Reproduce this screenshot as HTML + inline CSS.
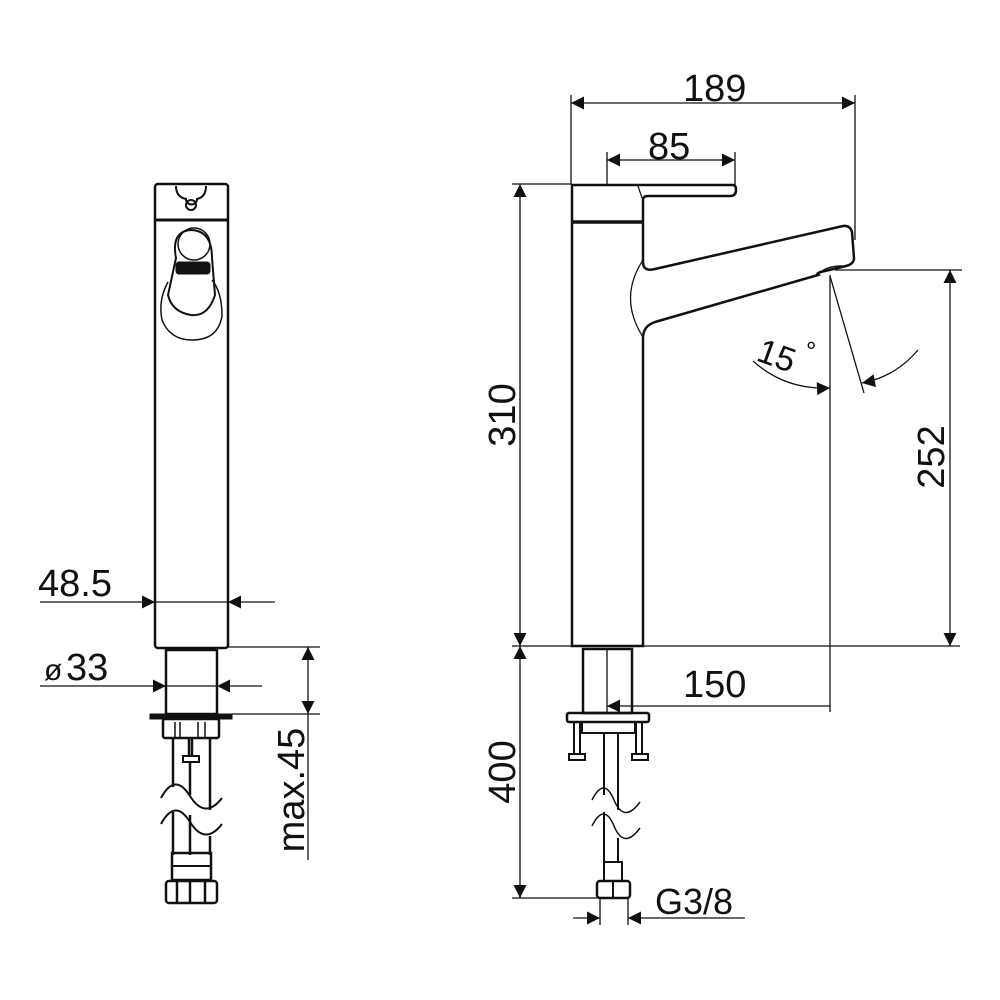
<!DOCTYPE html>
<html><head><style>body{margin:0;background:#fff}svg{display:block}text{font-family:"Liberation Sans",sans-serif;fill:#111}</style></head>
<body>
<svg width="1000" height="1000" viewBox="0 0 1000 1000" xmlns="http://www.w3.org/2000/svg">
<defs>
<marker id="a" viewBox="0 0 10 10" refX="10" refY="5" markerWidth="26" markerHeight="13" markerUnits="userSpaceOnUse" orient="auto-start-reverse"><path d="M0,0 L10,5 L0,10 z" fill="#111"/></marker>
</defs>
<g stroke="#111" fill="none">
<!-- LEFT VIEW -->
<rect x="155" y="184" width="73" height="464" rx="3" stroke-width="2.5"/>
<line x1="155" y1="220" x2="228" y2="220" stroke-width="3"/>
<path d="M176,186 Q176,197 186,199 A5,5 0 1 0 197,199 Q206,197 206,186" stroke-width="2"/>
<circle cx="191" cy="205" r="5" stroke-width="2"/>
<path d="M176,258 Q171,232 190,230 Q212,230 212,258 L215,295 Q208,317 191,315 Q172,312 168,295 Z" stroke-width="2"/>
<circle cx="194" cy="244" r="16" stroke-width="1.5"/>
<rect x="176" y="262" width="34" height="12" rx="3" fill="#111" stroke-width="1"/>
<path d="M168,282 Q158,300 162,320 Q170,340 192,340 Q218,340 222,316 Q222,292 212,280" stroke-width="1.5"/>
<!-- shank -->
<rect x="166" y="650" width="51" height="64" stroke-width="2.5"/>
<line x1="169" y1="650" x2="214" y2="650" stroke-width="2"/>
<rect x="150" y="714" width="82" height="5" fill="#111" stroke-width="1"/>
<rect x="163" y="719" width="56" height="19" rx="2" stroke-width="2.5"/>
<path d="M175,722 V738 M180,722 V738 M198,722 V738 M205,722 V738" stroke-width="1.5"/>
<path d="M173,738 V787 M210,738 V810 M189,738 V757 M192,738 V757" stroke-width="2.5"/>
<rect x="183" y="756" width="16" height="6" stroke-width="2"/>
<path d="M190,762 V795 M173,812 V855 M190,815 V855 M210,836 V855" stroke-width="2.5"/>
<path d="M161,798 Q175,772 190,796 T222,798 M161,824 Q175,798 190,822 T222,824" stroke-width="2"/>
<rect x="172" y="853" width="39" height="27" stroke-width="2.5"/>
<line x1="172" y1="866" x2="211" y2="866" stroke-width="2"/>
<rect x="166" y="881" width="51" height="22" rx="3" stroke-width="2.5"/>
<path d="M177,881 V903 M190,881 V903 M205,881 V903" stroke-width="2.5"/>
<!-- left dims -->
<g stroke-width="1.3">
<line x1="40" y1="602" x2="155" y2="602" marker-end="url(#a)"/>
<line x1="275" y1="602" x2="228" y2="602" marker-end="url(#a)"/>
<line x1="155" y1="602" x2="228" y2="602"/>
<line x1="40" y1="686" x2="166" y2="686" marker-end="url(#a)"/>
<line x1="262" y1="686" x2="217" y2="686" marker-end="url(#a)"/>
<line x1="166" y1="686" x2="217" y2="686"/>
<line x1="228" y1="647" x2="320" y2="647"/>
<line x1="232" y1="714" x2="320" y2="714"/>
<line x1="308" y1="680" x2="308" y2="647" marker-end="url(#a)"/>
<line x1="308" y1="680" x2="308" y2="714" marker-end="url(#a)"/>
<line x1="308" y1="714" x2="308" y2="860"/>
</g>
<!-- RIGHT VIEW -->
<path d="M572,646 V185 H733 Q736,185 736,190 Q736,196 730,196 H648 Q643,196 643,200 V262 Q643,272 655,269 L843,226 Q850,225 852,232 L854,258 Q854,264 846,266 L825,271 Q815,273 818,275 L655,322 Q643,326 643,338 V646 Z" stroke-width="2.5"/>
<path d="M818,275 Q825,266 842,266" stroke-width="1.5"/>
<line x1="572" y1="222" x2="643" y2="222" stroke-width="3.5"/>
<path d="M643,260 Q618,298 643,337" stroke-width="1.3"/>
<line x1="638" y1="186" x2="642" y2="198" stroke-width="1.2"/>
<!-- base right -->
<rect x="583" y="649" width="49" height="64" stroke-width="2.5"/>
<line x1="586" y1="649" x2="629" y2="649" stroke-width="2"/>
<line x1="607" y1="649" x2="607" y2="713" stroke-width="1.3"/>
<rect x="567" y="713" width="82" height="9" rx="2" stroke-width="2.5"/>
<rect x="582" y="722" width="53" height="11" stroke-width="2"/>
<path d="M574,722 V755 M580,722 V755 M636,722 V755 M642,722 V755" stroke-width="2"/>
<rect x="569" y="754" width="16" height="6" stroke-width="2"/>
<rect x="632" y="754" width="16" height="6" stroke-width="2"/>
<path d="M604,733 V795 M618,733 V810 M604,812 V862 M618,838 V862" stroke-width="2"/>
<path d="M592,800 Q604,776 614,800 T640,802 M592,826 Q604,802 614,826 T640,828" stroke-width="1.5"/>
<rect x="604" y="862" width="18" height="19" stroke-width="2"/>
<rect x="597" y="881" width="33" height="17" rx="3" stroke-width="2.5"/>
<line x1="613" y1="881" x2="613" y2="898" stroke-width="2"/>
<!-- right dims -->
<g stroke-width="1.3">
<line x1="571" y1="95" x2="571" y2="184"/>
<line x1="855" y1="95" x2="855" y2="240"/>
<line x1="715" y1="103" x2="571" y2="103" marker-end="url(#a)"/>
<line x1="715" y1="103" x2="855" y2="103" marker-end="url(#a)"/>
<line x1="607" y1="152" x2="607" y2="185"/>
<line x1="735" y1="152" x2="735" y2="185"/>
<line x1="670" y1="160" x2="607" y2="160" marker-end="url(#a)"/>
<line x1="670" y1="160" x2="735" y2="160" marker-end="url(#a)"/>
<line x1="512" y1="184" x2="571" y2="184"/>
<line x1="512" y1="646" x2="960" y2="646"/>
<line x1="520" y1="415" x2="520" y2="184" marker-end="url(#a)"/>
<line x1="520" y1="415" x2="520" y2="646" marker-end="url(#a)"/>
<line x1="835" y1="270" x2="962" y2="270"/>
<line x1="950" y1="455" x2="950" y2="270" marker-end="url(#a)"/>
<line x1="950" y1="455" x2="950" y2="646" marker-end="url(#a)"/>
<line x1="512" y1="898" x2="600" y2="898"/>
<line x1="520" y1="770" x2="520" y2="646" marker-end="url(#a)"/>
<line x1="520" y1="770" x2="520" y2="898" marker-end="url(#a)"/>
<line x1="600" y1="898" x2="600" y2="925"/>
<line x1="628" y1="898" x2="628" y2="925"/>
<line x1="573" y1="918" x2="600" y2="918" marker-end="url(#a)"/>
<line x1="745" y1="918" x2="628" y2="918" marker-end="url(#a)"/>
<line x1="830" y1="275" x2="830" y2="712"/>
<line x1="830" y1="706" x2="607" y2="706" marker-end="url(#a)"/>
<line x1="830" y1="276" x2="864" y2="393"/>
<path d="M753,361 Q785,390 830,388" marker-end="url(#a)"/>
<path d="M918,350 Q895,377 862,383" marker-end="url(#a)"/>
</g>
</g>
<g font-size="38">
<text x="38" y="596">48.5</text>
<text x="44" y="680" font-size="30">ø</text><text x="66" y="680">33</text>
<text x="683" y="101">189</text>
<text x="648" y="159">85</text>
<text x="683" y="697">150</text>
<text x="655" y="914" font-size="36">G3/8</text>
<text transform="translate(304,790) rotate(-90)" text-anchor="middle">max.45</text>
<text transform="translate(515,415) rotate(-90)" text-anchor="middle">310</text>
<text transform="translate(515,772) rotate(-90)" text-anchor="middle">400</text>
<text transform="translate(944,457) rotate(-90)" text-anchor="middle">252</text>
<text transform="translate(755,360) rotate(20)" font-size="34">15</text>
<text x="806" y="360" font-size="26">°</text>
</g>
</svg>
</body></html>
